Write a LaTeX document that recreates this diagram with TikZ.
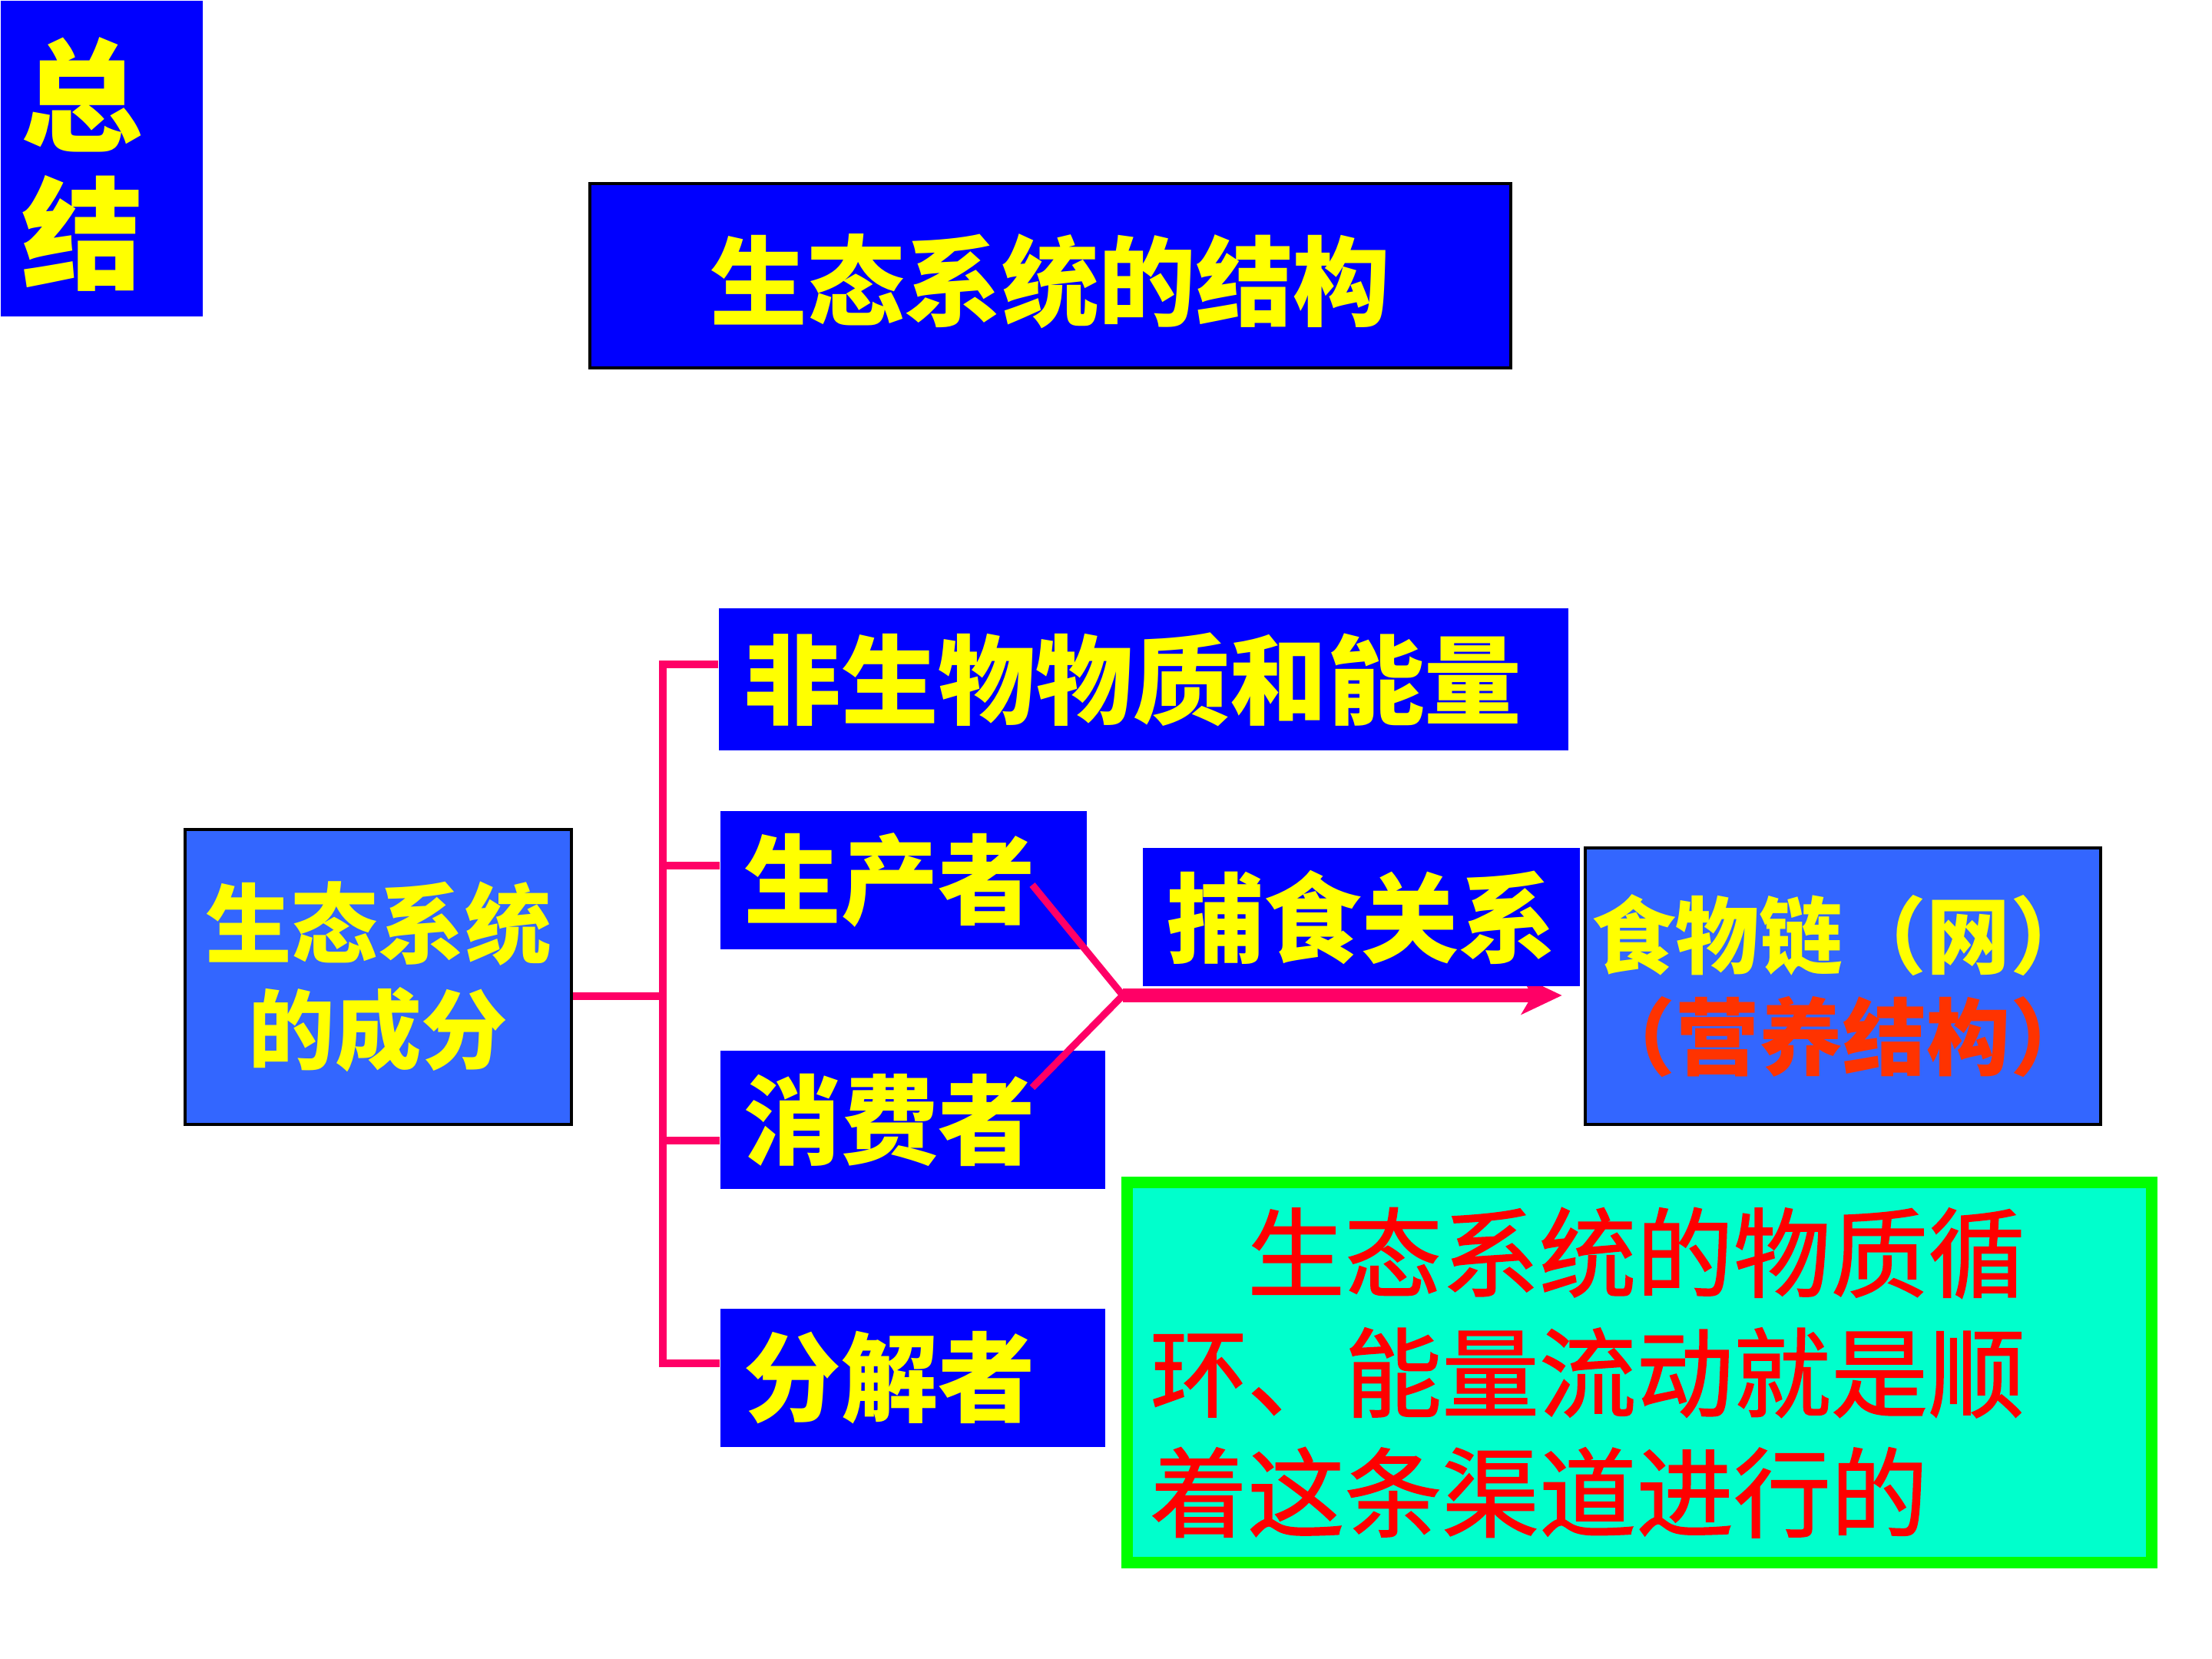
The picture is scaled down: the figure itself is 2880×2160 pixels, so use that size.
\documentclass[tikz,border=0pt]{standalone}
\usepackage{fontspec}
\setmainfont{Noto Sans CJK SC}
\newfontfamily\notefont{Noto Sans CJK SC}[FakeBold=1.2]
\usetikzlibrary{arrows.meta}
\definecolor{pblue}{HTML}{0000FF}
\definecolor{lblue}{HTML}{3366FF}
\definecolor{yel}{HTML}{FFFF00}
\definecolor{pinkline}{HTML}{FF0066}
\definecolor{aqua}{HTML}{00FFCC}
\definecolor{lgreen}{HTML}{00FF00}
\definecolor{ored}{HTML}{FF3300}
\definecolor{rtext}{HTML}{FF0000}
\newcommand\fsz[1]{\fontsize{#1pt}{#1pt}\selectfont}
\tikzset{
  bluebox/.style={fill=pblue, text=yel, inner sep=0pt, font=\bfseries\fsz{36}},
  lbbox/.style={fill=lblue, draw=black, line width=1.2pt, text=yel, inner sep=0pt},
  ytext/.style={text=yel, inner sep=0pt},
  link/.style={draw=pinkline, line width=2.6pt, line join=miter},
  bigarrow/.style={draw=pinkline, fill=pinkline, line width=5pt, -{Stealth[length=15pt,width=14pt,inset=4pt]}},
}
\begin{document}
\begin{tikzpicture}[x=0.01cm, y=-0.01cm]
\fill[white] (0,0) rectangle (2880,2160);
\useasboundingbox (0,0) rectangle (2880,2160);

% summary tag
\node[bluebox, anchor=north west, minimum width=2.63cm, minimum height=4.11cm] (sumbox) at (0,0) {};
\node[ytext, font=\bfseries\fsz{45}] (zong) at (107,123) {总};
\node[ytext, font=\bfseries\fsz{45}] (jie) at (108,304) {结};

% title
\node[bluebox, draw=black, line width=1.2pt, minimum width=11.99cm, minimum height=2.40cm, text depth=-6pt] (title) at (1367.5,359) {生态系统的结构};

% components
\node[lbbox, minimum width=5.03cm, minimum height=3.84cm, align=center,
      font=\bfseries\fontsize{32pt}{39.3pt}\selectfont] (comp) at (492.5,1272) {生态系统\\的成分};

\node[bluebox, anchor=west, text width=10.4cm, inner xsep=0.33cm, minimum height=1.85cm, align=left] (abio) at (935,884.5) {非生物物质和能量};
\node[bluebox, anchor=west, text width=4.15cm, inner xsep=0.31cm, minimum height=1.80cm, align=left] (prod) at (937,1146) {生产者};
\node[bluebox, anchor=west, text width=4.39cm, inner xsep=0.31cm, minimum height=1.80cm, align=left] (cons) at (937,1458) {消费者};
\node[bluebox, anchor=west, text width=4.39cm, inner xsep=0.31cm, minimum height=1.80cm, align=left] (deco) at (937,1794) {分解者};

\node[lbbox, minimum width=6.71cm, minimum height=3.60cm, align=center,
      font=\bfseries\fontsize{31pt}{37.6pt}\selectfont] (food) at (2399.5,1284) {食物链（网）\\\textcolor{ored}{（营养结构）}};

% bracket connectors
\coordinate (trunk) at (863,1297);
\coordinate (br1) at (863,865);
\coordinate (br2) at (863,1127);
\coordinate (br3) at (863,1485);
\coordinate (br4) at (863,1775);
\draw[link] (comp.east |- trunk) -- (trunk);
\draw[link] (abio.west |- br1) -- (br1) -- (br4) -- (deco.west |- br4);
\draw[link] (prod.west |- br2) -- (br2);
\draw[link] (cons.west |- br3) -- (br3);

% predation connectors
\coordinate (pstart) at (1344,1152);
\coordinate (cstart) at (1344,1416);
\coordinate (junc) at (1462,1296);
\draw[link] (pstart) -- (junc) -- (cstart);
\draw[bigarrow, shorten >=0.28cm] (junc) -- (food.west |- junc);

\node[bluebox, minimum width=5.69cm, minimum height=1.80cm] (pred) at (1772.5,1194) {捕食关系};

% note box
\node[draw=lgreen, fill=aqua, line width=4.27pt, anchor=north west, text width=12.73cm,
      inner xsep=0.3cm, inner ysep=0pt, minimum height=4.95cm, align=left, text=rtext,
      font=\notefont\fontsize{36pt}{44.4pt}\selectfont] (note) at (1460,1532)
  {\hspace*{1em}生态系统的物质循\\环、能量流动就是顺\\着这条渠道进行的};
\end{tikzpicture}
\end{document}
